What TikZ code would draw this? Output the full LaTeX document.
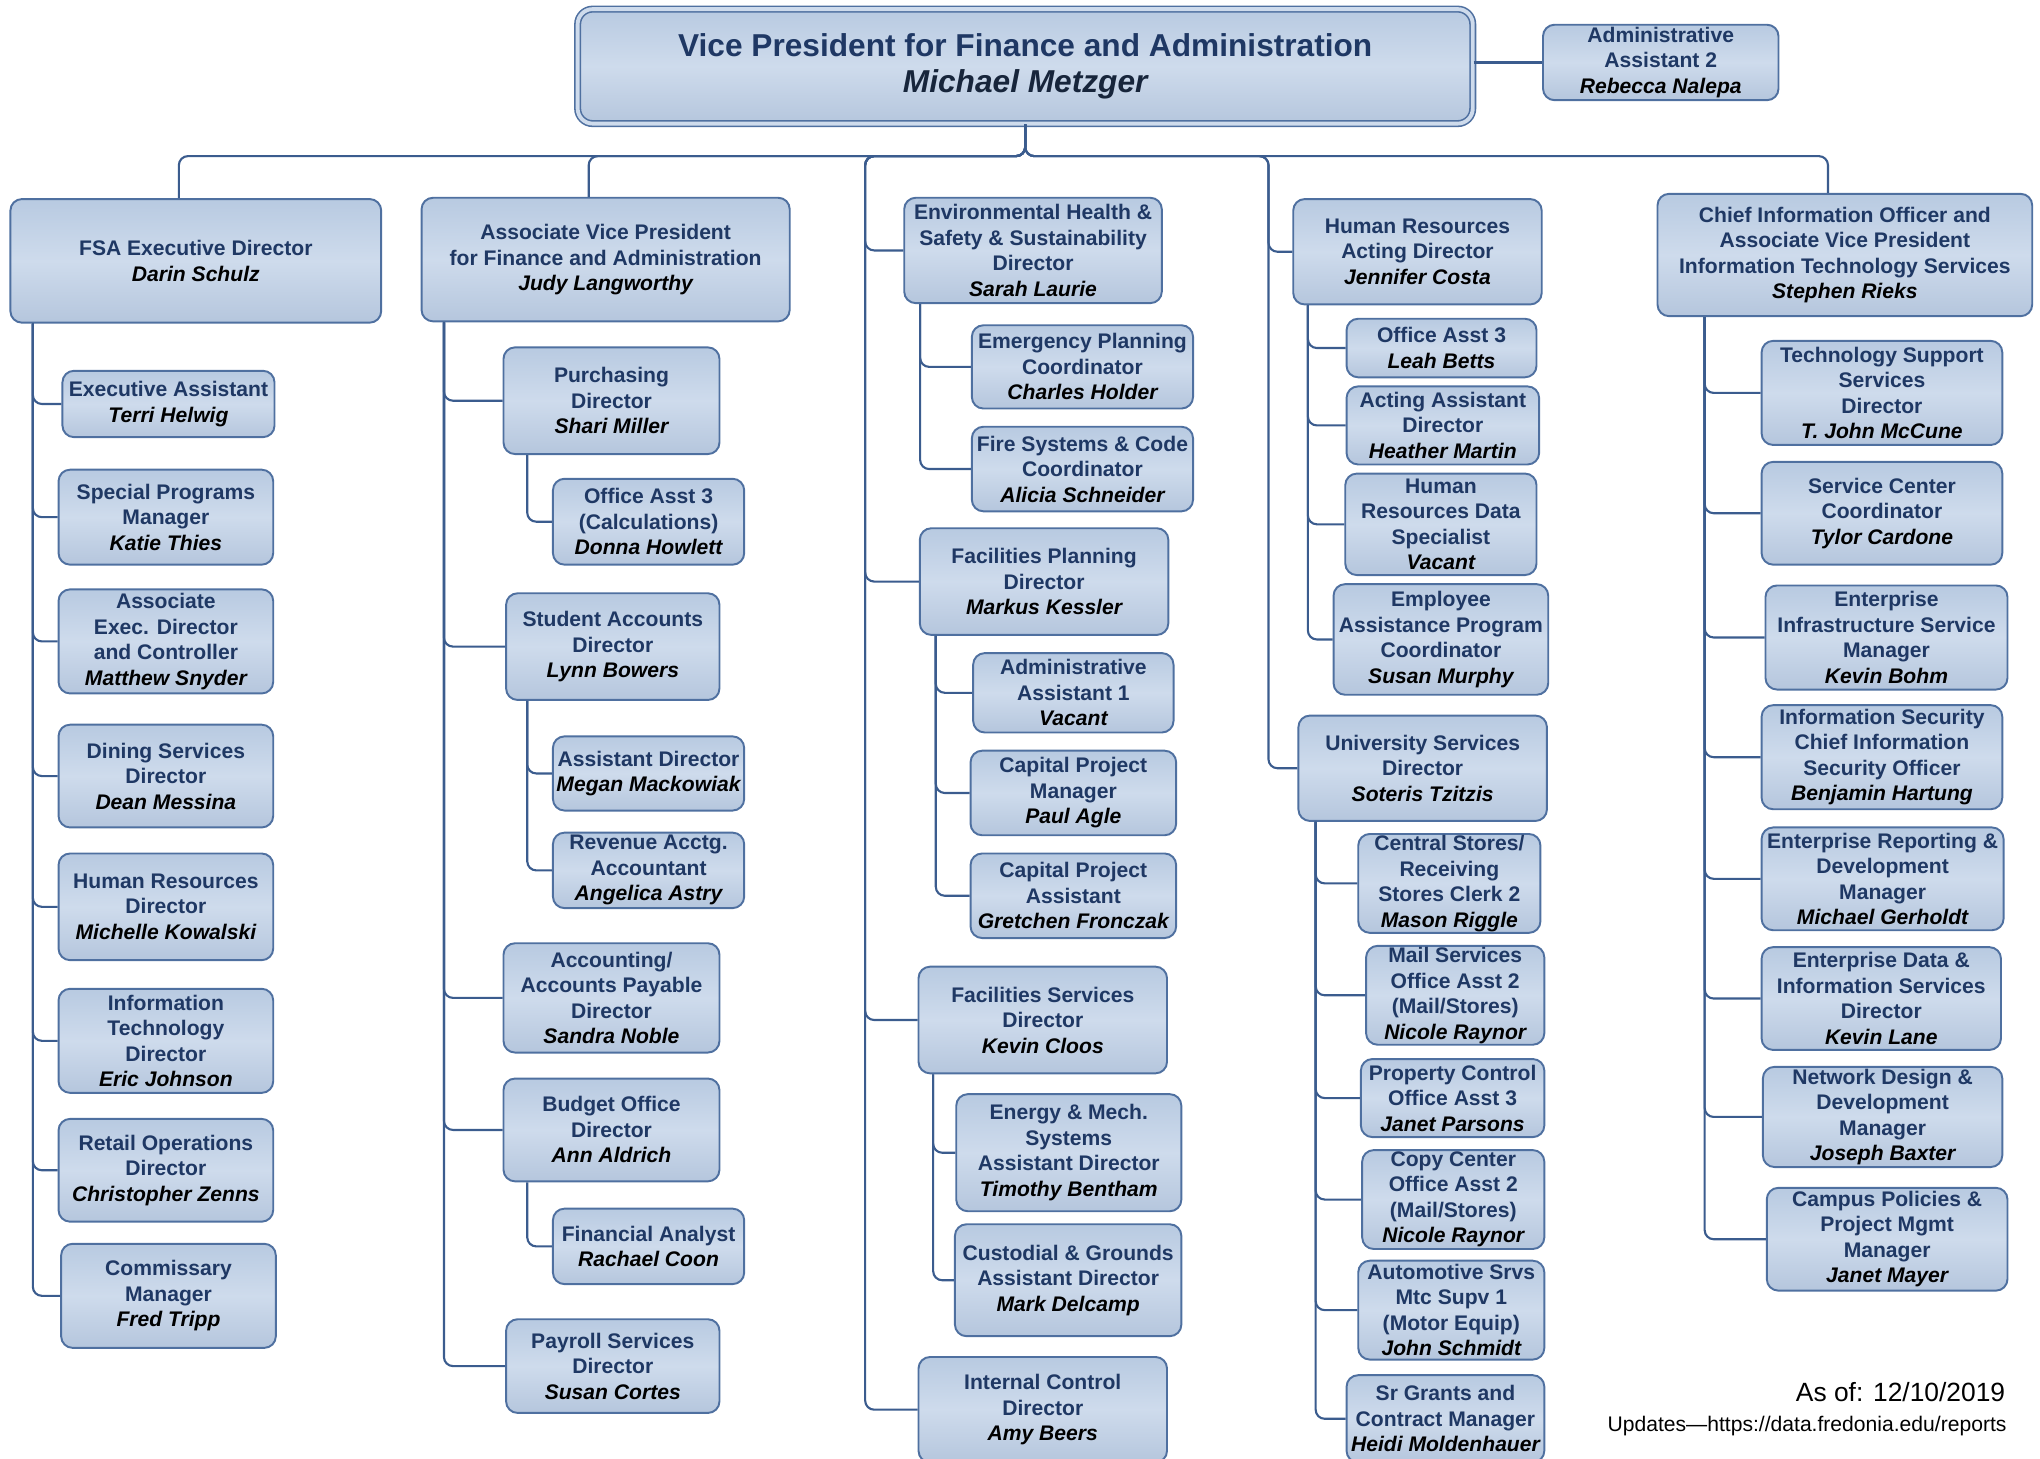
\documentclass[tikz,border=0pt]{standalone}
\usepackage{fontspec}
\setmainfont{Liberation Sans}
\usetikzlibrary{calc}
\definecolor{cnavy}{HTML}{1F3864}
\definecolor{cdark}{HTML}{17253B}
\definecolor{cedge}{HTML}{4F70A0}
\definecolor{cline}{HTML}{3B5C8E}
\definecolor{ctop}{HTML}{B8CAE1}
\definecolor{cmid}{HTML}{CEDBEC}
\definecolor{cbot}{HTML}{B5C6DD}
\newcommand{\who}[1]{{\color{black}\itshape #1}}
\tikzset{
  every picture/.style={font=\bfseries\fontsize{12}{14.5}\selectfont},
  box/.style={draw=cedge, line width=1.1pt, top color=ctop, bottom color=cbot, middle color=cmid,
    rounded corners=0.23cm, align=center, text=cnavy, inner sep=0.5pt},
  vpbox/.style={box, double=cmid, double distance=2.2pt, line width=0.9pt, rounded corners=0.3cm,
    font=\bfseries\fontsize{18}{20.6}\selectfont},
  sz/.style 2 args={minimum width=#1*0.026cm, minimum height=#2*0.026cm},
  link/.style={draw=cline, line width=1.2pt, rounded corners=0.18cm},
  footnote/.style={anchor=base east, text=black},
}

\begin{document}
\begin{tikzpicture}[x=0.026cm, y=-0.026cm]
  \useasboundingbox (0,0) rectangle (1568,1121);
  % top
  \node[vpbox, sz={688}{88}] (vp) at (788,51) {Vice President for Finance and Administration\\{\color{cdark}\itshape Michael Metzger}};
  \node[box, sz={181}{58}] (aa2) at (1276.5,48) {Administrative\\Assistant 2\\\who{Rebecca Nalepa}};
  \draw[link] (vp.east |- aa2.west) -- (aa2.west);
  \coordinate (bus) at (788,120);
  \coordinate (c3) at (665,120);
  \coordinate (c4) at (975,120);

  % column 1: FSA
  \node[box, sz={285}{95}] (fsa) at (150.5,200.5) {FSA Executive Director\\\who{Darin Schulz}};
  \node[box, sz={163}{51}] (ea) at (129.5,310.5) {Executive Assistant\\\who{Terri Helwig}};
  \node[box, sz={165}{73}] (spm) at (127.5,397.5) {Special Programs\\Manager\\\who{Katie Thies}};
  \node[box, sz={165}{80}] (aed) at (127.5,493) {Associate\\Exec. Director\\and Controller\\\who{Matthew Snyder}};
  \node[box, sz={165}{79}] (dsd) at (127.5,596.5) {Dining Services\\Director\\\who{Dean Messina}};
  \node[box, sz={165}{82}] (hrd) at (127.5,697) {Human Resources\\Director\\\who{Michelle Kowalski}};
  \node[box, sz={165}{80}] (itd) at (127.5,800) {Information\\Technology\\Director\\\who{Eric Johnson}};
  \node[box, sz={165}{79}] (rod) at (127.5,899.5) {Retail Operations\\Director\\\who{Christopher Zenns}};
  \node[box, sz={165}{80}] (cmm) at (129.5,996) {Commissary\\Manager\\\who{Fred Tripp}};

  % column 2: associate vice president
  \node[box, sz={283}{95}] (avp) at (465.5,199.5) {Associate Vice President\\for Finance and Administration\\\who{Judy Langworthy}};
  \node[box, sz={166}{82}] (pur) at (470,308) {Purchasing\\Director\\\who{Shari Miller}};
  \node[box, sz={147}{66}] (oac) at (498.5,401) {Office Asst 3\\(Calculations)\\\who{Donna Howlett}};
  \node[box, sz={164}{82}] (sad) at (471,497) {Student Accounts\\Director\\\who{Lynn Bowers}};
  \node[box, sz={147}{57}] (asd) at (498.5,594.5) {Assistant Director\\\who{Megan Mackowiak}};
  \node[box, sz={147}{58}] (raa) at (498.5,669) {Revenue Acctg.\\Accountant\\\who{Angelica Astry}};
  \node[box, sz={166}{84}] (aap) at (470,767) {Accounting/\\Accounts Payable\\Director\\\who{Sandra Noble}};
  \node[box, sz={166}{79}] (bod) at (470,868.5) {Budget Office\\Director\\\who{Ann Aldrich}};
  \node[box, sz={147}{58}] (fan) at (498.5,958) {Financial Analyst\\\who{Rachael Coon}};
  \node[box, sz={164}{72}] (psd) at (471,1050) {Payroll Services\\Director\\\who{Susan Cortes}};

  % column 3: facilities
  \node[box, sz={198}{81}] (ehs) at (794,192.5) {Environmental Health \&\\Safety \& Sustainability\\Director\\\who{Sarah Laurie}};
  \node[box, sz={170}{64}] (epc) at (832,282) {Emergency Planning\\Coordinator\\\who{Charles Holder}};
  \node[box, sz={170}{65}] (fsc) at (832,360.5) {Fire Systems \& Code\\Coordinator\\\who{Alicia Schneider}};
  \node[box, sz={191}{82}] (fpd) at (802.5,447) {Facilities Planning\\Director\\\who{Markus Kessler}};
  \node[box, sz={154}{61}] (aa1) at (825,532.5) {Administrative\\Assistant 1\\\who{Vacant}};
  \node[box, sz={158}{65}] (cpm) at (825,609.5) {Capital Project\\Manager\\\who{Paul Agle}};
  \node[box, sz={158}{65}] (cpa) at (825,688.5) {Capital Project\\Assistant\\\who{Gretchen Fronczak}};
  \node[box, sz={191}{82}] (fsd) at (801.5,784) {Facilities Services\\Director\\\who{Kevin Cloos}};
  \node[box, sz={173}{90}] (ems) at (821.5,886) {Energy \& Mech.\\Systems\\Assistant Director\\\who{Timothy Bentham}};
  \node[box, sz={174}{86}] (cgd) at (821,984) {Custodial \& Grounds\\Assistant Director\\\who{Mark Delcamp}};
  \node[box, sz={191}{81}] (icd) at (801.5,1083.5) {Internal Control\\Director\\\who{Amy Beers}};

  % column 4: human resources and university services
  \node[box, sz={191}{81}] (hra) at (1089.5,193.5) {Human Resources\\Acting Director\\\who{Jennifer Costa}};
  \node[box, sz={146}{45}] (oal) at (1108,267.5) {Office Asst 3\\\who{Leah Betts}};
  \node[box, sz={148}{60}] (aad) at (1109,327) {Acting Assistant\\Director\\\who{Heather Martin}};
  \node[box, sz={147}{78}] (hds) at (1107.5,403) {Human\\Resources Data\\Specialist\\\who{Vacant}};
  \node[box, sz={165}{85}] (eap) at (1107.5,491.5) {Employee\\Assistance Program\\Coordinator\\\who{Susan Murphy}};
  \node[box, sz={191}{81}] (usd) at (1093.5,590.5) {University Services\\Director\\\who{Soteris Tzitzis}};
  \node[box, sz={140}{76}] (csr) at (1114,679) {Central Stores/\\Receiving\\Stores Clerk 2\\\who{Mason Riggle}};
  \node[box, sz={137}{76}] (msa) at (1118.5,765) {Mail Services\\Office Asst 2\\(Mail/Stores)\\\who{Nicole Raynor}};
  \node[box, sz={141}{60}] (pca) at (1116.5,844) {Property Control\\Office Asst 3\\\who{Janet Parsons}};
  \node[box, sz={140}{76}] (cca) at (1117,922) {Copy Center\\Office Asst 2\\(Mail/Stores)\\\who{Nicole Raynor}};
  \node[box, sz={143}{76}] (asm) at (1115.5,1007) {Automotive Srvs\\Mtc Supv 1\\(Motor Equip)\\\who{John Schmidt}};
  \node[box, sz={152}{67}] (sgc) at (1111,1090.5) {Sr Grants and\\Contract Manager\\\who{Heidi Moldenhauer}};

  % column 5: information technology
  \node[box, sz={288}{94}] (cio) at (1418,196) {Chief Information Officer and\\Associate Vice President\\Information Technology Services\\\who{Stephen Rieks}};
  \node[box, sz={185}{80}] (tss) at (1446.5,302) {Technology Support\\Services\\Director\\\who{T. John McCune}};
  \node[box, sz={185}{79}] (scc) at (1446.5,394.5) {Service Center\\Coordinator\\\who{Tylor Cardone}};
  \node[box, sz={186}{80}] (eis) at (1450,490) {Enterprise\\Infrastructure Service\\Manager\\\who{Kevin Bohm}};
  \node[box, sz={185}{80}] (iso) at (1446.5,582) {Information Security\\Chief Information\\Security Officer\\\who{Benjamin Hartung}};
  \node[box, sz={186}{79}] (erd) at (1447,675.5) {Enterprise Reporting \&\\Development\\Manager\\\who{Michael Gerholdt}};
  \node[box, sz={184}{79}] (eds) at (1446,767.5) {Enterprise Data \&\\Information Services\\Director\\\who{Kevin Lane}};
  \node[box, sz={184}{77}] (ndd) at (1447,858.5) {Network Design \&\\Development\\Manager\\\who{Joseph Baxter}};
  \node[box, sz={185}{79}] (cpp) at (1450.5,952.5) {Campus Policies \&\\Project Mgmt\\Manager\\\who{Janet Mayer}};

  % bus from the vice president
  \foreach \c in {fsa,avp,cio} {
    \coordinate (d\c) at ($(\c.north)+(-13,0)$);
    \draw[link] (vp.south) |- (bus -| d\c) -- (d\c);
  }
  \foreach \c in {ehs,fpd,fsd,icd} \draw[link] (vp.south) |- (c3) |- (\c.west);
  \foreach \c in {hra,usd} \draw[link] (vp.south) |- (c4) |- (\c.west);

  % trunks down to the reports
  \coordinate (t1) at ($(fsa.south west)+(18,0)$);
  \coordinate (t2) at ($(avp.south west)+(18,0)$);
  \coordinate (t2a) at ($(pur.south west)+(19,0)$);
  \coordinate (t2b) at ($(sad.south west)+(17,0)$);
  \coordinate (t2c) at ($(bod.south west)+(19,0)$);
  \coordinate (t3a) at ($(ehs.south west)+(13,0)$);
  \coordinate (t3b) at ($(fpd.south west)+(13,0)$);
  \coordinate (t3c) at ($(fsd.south west)+(12,0)$);
  \coordinate (t4a) at ($(hra.south west)+(12,0)$);
  \coordinate (t4b) at ($(usd.south west)+(14,0)$);
  \coordinate (t5) at ($(cio.south west)+(37,0)$);
  \foreach \c in {ea,spm,aed,dsd,hrd,itd,rod,cmm} \draw[link] (t1) |- (\c.west);
  \foreach \c in {pur,sad,aap,bod,psd} \draw[link] (t2) |- (\c.west);
  \draw[link] (t2a) |- (oac.west);
  \foreach \c in {asd,raa} \draw[link] (t2b) |- (\c.west);
  \draw[link] (t2c) |- (fan.west);
  \foreach \c in {epc,fsc} \draw[link] (t3a) |- (\c.west);
  \foreach \c in {aa1,cpm,cpa} \draw[link] (t3b) |- (\c.west);
  \foreach \c in {ems,cgd} \draw[link] (t3c) |- (\c.west);
  \foreach \c in {oal,aad,hds,eap} \draw[link] (t4a) |- (\c.west);
  \foreach \c in {csr,msa,pca,cca,asm,sgc} \draw[link] (t4b) |- (\c.west);
  \foreach \c in {tss,scc,eis,iso,erd,eds,ndd,cpp} \draw[link] (t5) |- (\c.west);

  % footer
  \node[footnote, font=\fontsize{15}{18}\selectfont] (asof) at (1546,1077) {As of: 12/10/2019};
  \node[footnote, font=\fontsize{12}{14}\selectfont] (upd) at (1547,1100) {Updates—https://data.fredonia.edu/reports};
\end{tikzpicture}
\end{document}
